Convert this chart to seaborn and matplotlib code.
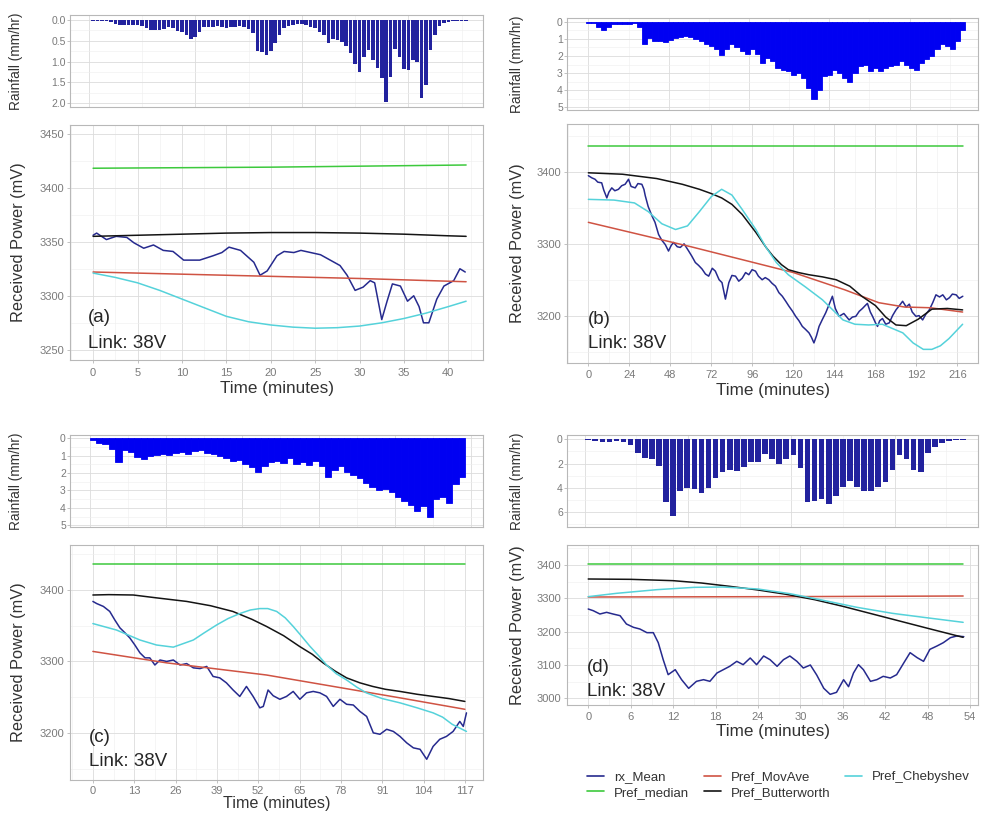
import numpy as np
import pandas as pd
import seaborn as sns
import matplotlib.pyplot as plt
from matplotlib.lines import Line2D
from matplotlib.ticker import FixedLocator, MultipleLocator, FormatStrFormatter

sns.set_theme(style="white")
plt.rcParams['font.family'] = ['Liberation Sans', 'DejaVu Sans']

W, H = 981, 814

series_order = ['rx_Mean', 'Pref_median', 'Pref_MovAve', 'Pref_Butterworth', 'Pref_Chebyshev']
palette = {
    'rx_Mean': '#262A8E',
    'Pref_median': '#3DC93D',
    'Pref_MovAve': '#CF5343',
    'Pref_Butterworth': '#141414',
    'Pref_Chebyshev': '#55D2DA',
}

# ---------------- panel (a) ----------------
a_rain_step = 0.5
a_rain = [0.02, 0.02, 0.02, 0.03, 0.05, 0.1, 0.12, 0.12, 0.12, 0.13,
          0.13, 0.15, 0.2, 0.24, 0.24, 0.24, 0.22, 0.18, 0.2, 0.26,
          0.3, 0.36, 0.45, 0.42, 0.3, 0.18, 0.16, 0.17, 0.15, 0.18,
          0.2, 0.17, 0.16, 0.14, 0.16, 0.22, 0.32, 0.75, 0.78, 0.84,
          0.75, 0.55, 0.35, 0.2, 0.14, 0.12, 0.1, 0.1, 0.12, 0.16,
          0.2, 0.28, 0.35, 0.56, 0.45, 0.48, 0.52, 0.62, 0.8, 1.05,
          1.24, 0.9, 0.72, 0.95, 1.15, 1.4, 1.96, 1.38, 0.7, 0.9,
          1.18, 1.2, 0.96, 1.0, 1.88, 1.55, 0.72, 0.35, 0.15, 0.07,
          0.04, 0.02, 0.02, 0.02, 0.02]
a_rx_t = [0, 0.4, 1.5, 2.6, 3.8, 4.6, 5.7, 6.8, 7.9, 9.0, 10.2, 12.0, 13.5, 14.5, 15.3, 16.6,
          18.1, 18.8, 19.6, 20.7, 21.5, 22.6, 23.4, 24.5, 25.6, 26.7, 27.8, 28.6, 29.5, 30.4,
          31.2, 31.7, 32.5, 33.1, 33.7, 34.6, 35.4, 36.1, 36.7, 37.2, 37.8, 38.7, 39.5, 40.6,
          41.3, 41.9]
a_rx_v = [3356, 3358, 3352, 3355, 3354, 3349, 3344, 3347, 3342, 3341, 3333, 3333, 3337, 3340,
          3345, 3342, 3331, 3319, 3323, 3337, 3341, 3340, 3342, 3340, 3338, 3333, 3328, 3319,
          3305, 3308, 3314, 3312, 3278, 3295, 3311, 3309, 3295, 3300, 3290, 3275, 3275, 3297,
          3309, 3314, 3325, 3322]
a_median_t = [0, 20, 42]
a_median_v = [3418, 3419, 3421]
a_movave_t = [0, 10, 20, 30, 42]
a_movave_v = [3322, 3320, 3318, 3316, 3313]
a_butter_t = [0, 5, 10, 15, 20, 25, 30, 35, 40, 42]
a_butter_v = [3355, 3356, 3357, 3358, 3358.5, 3358.5, 3358, 3357, 3355.5, 3355]
a_cheby_t = [0, 2.5, 5, 7.5, 10, 12.5, 15, 17.5, 20, 22.5, 25, 27.5, 30, 32.5, 35, 37.5, 40, 42]
a_cheby_v = [3321, 3317, 3312, 3305, 3297, 3289, 3281, 3276, 3273, 3271, 3270, 3270.5, 3272,
             3275, 3279, 3284, 3290, 3295]

# ---------------- panel (b) ----------------
b_rain_step = 3
b_rain = [0.05, 0.1, 0.3, 0.5, 0.3, 0.15, 0.12, 0.15, 0.15, 0.1,
          0.3, 1.3, 0.95, 1.1, 1.15, 1.2, 1.05, 0.95, 0.9, 0.85,
          0.9, 1.0, 1.1, 1.3, 1.4, 1.6, 1.95, 1.6, 1.3, 1.5,
          1.7, 1.9, 1.6, 1.9, 2.4, 2.1, 2.3, 2.7, 2.8, 2.9,
          3.1, 3.0, 3.3, 3.9, 4.5, 4.0, 3.2, 3.1, 2.8, 3.0,
          3.3, 3.5, 3.0, 2.6, 2.5, 2.9, 2.7, 2.9, 2.7, 2.6,
          2.5, 2.3, 2.5, 2.7, 2.8, 2.4, 2.2, 2.0, 1.6, 1.3,
          1.4, 1.6, 1.1, 0.5]
b_rx_t = [0, 2, 3.9, 5.5, 7.8, 9, 10.8, 12, 13.7, 15.5, 17.6, 19.5, 21.5, 23.5, 25, 27.4, 29,
          31.3, 32.5, 33.3, 35, 37.2, 39, 41.1, 43, 45, 46.9, 48.5, 49.9, 52, 53.8, 56, 58.7,
          60.5, 62.6, 64.5, 66.5, 68.5, 70.4, 72.5, 74.3, 76.5, 78.2, 80.2, 82.2, 84, 86.1, 88,
          90, 92, 93.9, 95.8, 97.8, 99.5, 101.7, 103.5, 105.6, 107.5, 109.5, 111.5, 113.5,
          115.5, 117.4, 119.5, 121.3, 123.2, 125.2, 127, 129.1, 130.5, 132, 133.5, 135, 137,
          138.9, 140.8, 142.8, 144.5, 146.7, 149.5, 152.6, 154.5, 156.5, 158.5, 160.4, 162,
          163.3, 165, 166.3, 168, 169.2, 170.5, 172.1, 174, 176.1, 178, 180, 182, 183.9, 186,
          187.8, 189.5, 191.7, 193.5, 195.6, 197.5, 199.5, 201.5, 203.4, 205.5, 207.4, 209.5,
          211.3, 213, 215.2, 217, 219.1]
b_rx_v = [3395, 3392, 3390, 3386, 3385, 3375, 3364, 3372, 3378, 3374, 3376, 3381, 3383, 3390,
          3380, 3378, 3384, 3383, 3376, 3367, 3352, 3339, 3330, 3313, 3305, 3299, 3290, 3298,
          3302, 3296, 3295, 3300, 3290, 3283, 3274, 3270, 3265, 3258, 3255, 3266, 3262, 3250,
          3246, 3223, 3246, 3256, 3255, 3248, 3252, 3260, 3257, 3264, 3262, 3255, 3250, 3253,
          3250, 3245, 3241, 3232, 3227, 3220, 3213, 3206, 3199, 3193, 3185, 3181, 3176, 3170,
          3162, 3172, 3185, 3195, 3204, 3215, 3227, 3210, 3199, 3203, 3194, 3198, 3199, 3206,
          3210, 3214, 3217, 3205, 3199, 3190, 3185, 3193, 3196, 3188, 3190, 3200, 3208, 3214,
          3220, 3212, 3216, 3205, 3199, 3200, 3194, 3202, 3208, 3218, 3229, 3226, 3229, 3222,
          3225, 3230, 3229, 3224, 3227]
b_median_t = [0, 110, 219]
b_median_v = [3437, 3437, 3437]
b_movave_t = [0, 30, 60, 90, 120, 150, 170, 185, 200, 219]
b_movave_v = [3330, 3313, 3296, 3278, 3260, 3236, 3218, 3212, 3211, 3205]
b_butter_t = [0, 20, 40, 55, 65, 72, 78, 84, 90, 98, 104, 108, 113, 117, 123, 129, 137, 145,
              153, 160, 168, 174, 180, 186, 193, 201, 210, 219]
b_butter_v = [3399, 3397, 3391, 3383, 3376, 3370, 3364, 3355, 3341, 3316, 3295, 3283, 3271,
              3264, 3260, 3257, 3254, 3250, 3241, 3227, 3214, 3198, 3187, 3186, 3195, 3209,
              3210, 3208]
b_cheby_t = [0, 15, 27, 35, 43, 51, 58, 65, 72, 78, 84, 90, 98, 104, 110, 117, 127, 137, 149,
             156, 164, 172, 184, 190, 196, 201, 206, 211, 219]
b_cheby_v = [3362, 3361, 3357, 3345, 3328, 3320, 3325, 3345, 3366, 3376, 3368, 3348, 3320,
             3295, 3274, 3257, 3240, 3222, 3194, 3188, 3187, 3188, 3176, 3162, 3153, 3153,
             3158, 3168, 3188]

# ---------------- panel (c) ----------------
c_rain_step = 2
c_rain = [0.1, 0.25, 0.35, 0.6, 1.35, 0.7, 0.8, 1.05, 1.2, 1.0,
          0.95, 0.9, 0.95, 0.85, 0.8, 0.9, 0.75, 0.7, 0.85, 0.9,
          1.0, 1.15, 1.3, 1.25, 1.45, 1.65, 1.95, 1.6, 1.35, 1.3,
          1.4, 1.15, 1.5, 1.35, 1.55, 1.3, 1.6, 2.2, 1.8, 1.6,
          1.95, 2.1, 2.3, 2.55, 2.8, 3.0, 2.9, 3.1, 3.35, 3.6,
          3.85, 4.2, 3.9, 4.55, 3.5, 3.4, 3.7, 2.6, 2.25]
c_rx_t = [0, 1.2, 3.3, 5.3, 6.9, 8.5, 10.1, 11.6, 13.2, 14.8, 16.4, 17.9, 19.5, 21.1, 23.2,
          25.3, 27.4, 29.5, 31.6, 33.7, 35.8, 37.8, 39.9, 42, 44.1, 46.2, 48.3, 50.4, 52.5,
          53.6, 55.1, 56.7, 58.8, 60.9, 63, 65.1, 67.2, 69.3, 71.4, 73.5, 75.6, 77.7, 79.8,
          81.9, 84, 86.1, 88.2, 90.3, 92.4, 94.5, 96.6, 98.7, 100.8, 102.9, 105, 107, 109.1,
          111.2, 113.3, 115.4, 116.5, 117.5]
c_rx_v = [3384, 3381, 3377, 3370, 3358, 3347, 3340, 3333, 3323, 3312, 3305, 3305, 3295, 3302,
          3300, 3302, 3295, 3297, 3291, 3290, 3293, 3279, 3277, 3270, 3260, 3251, 3265, 3251,
          3235, 3237, 3260, 3252, 3247, 3251, 3258, 3247, 3256, 3258, 3256, 3251, 3237, 3247,
          3240, 3239, 3230, 3223, 3200, 3198, 3205, 3202, 3195, 3186, 3179, 3177, 3163, 3181,
          3191, 3195, 3202, 3216, 3209, 3228]
c_median_t = [0, 58, 117]
c_median_v = [3437, 3437, 3437]
c_movave_t = [0, 23.2, 54.6, 75.6, 96.6, 117]
c_movave_v = [3314, 3298, 3281, 3265, 3249, 3233]
c_butter_t = [0, 5, 12.7, 20, 29.5, 37, 44, 50, 54.6, 60, 65, 69, 72.4, 76, 79.8, 84, 88, 92,
              96.6, 102, 107, 112, 117]
c_butter_v = [3393, 3393.5, 3393, 3389, 3384, 3378, 3370, 3359, 3349, 3336, 3321, 3310, 3298,
              3287, 3277, 3270, 3265, 3261, 3258, 3254, 3251, 3248, 3244]
c_cheby_t = [0, 7.4, 14.8, 20, 25.3, 31.6, 35, 38.9, 42.5, 46.2, 49.5, 52.5, 55, 57.8, 60.5,
             63, 65.5, 68.3, 71, 73.5, 76.5, 79.8, 83, 86, 91, 96.6, 102, 107, 110, 113, 117.5]
c_cheby_v = [3353, 3344, 3330, 3323, 3320, 3330, 3340, 3351, 3360, 3367, 3372, 3374, 3374,
             3370, 3361, 3349, 3336, 3321, 3308, 3295, 3283, 3274, 3264, 3256, 3248, 3242,
             3235, 3228, 3222, 3212, 3202]

# ---------------- panel (d) ----------------
d_rain_step = 1
d_rain = [0.05, 0.1, 0.25, 0.2, 0.1, 0.2, 0.5, 1.1, 1.5, 1.6,
          2.2, 5.2, 6.3, 4.3, 4.0, 4.1, 4.4, 4.0, 3.2, 2.7,
          2.5, 2.6, 2.25, 1.85, 1.9, 1.2, 1.6, 2.0, 1.6, 1.3,
          2.4, 5.2, 5.1, 4.9, 5.3, 4.7, 3.9, 3.4, 3.9, 4.3,
          4.3, 3.9, 3.5, 2.5, 1.3, 1.6, 2.5, 2.7, 1.1, 0.6,
          0.3, 0.1, 0.05, 0.05]
d_rx_t = [0, 0.7, 1.65, 2.6, 3.5, 4.5, 5.4, 6.4, 7.3, 8.3, 9.2, 9.9, 10.6, 11.3, 12.3, 13.2,
          14.2, 15.3, 16.3, 17.2, 18.2, 19.1, 20, 21, 21.9, 22.9, 23.8, 24.8, 25.7, 26.7,
          27.6, 28.5, 29.5, 30.4, 31.4, 32.3, 33.3, 34.2, 35.1, 36.1, 36.8, 37.5, 38.2, 38.9,
          39.9, 40.8, 41.7, 42.7, 43.6, 44.6, 45.5, 46.5, 47.4, 48.3, 49.3, 50.2, 51.2, 52.1,
          53.1]
d_rx_v = [3268, 3263, 3253, 3258, 3253, 3248, 3223, 3213, 3208, 3197, 3197, 3167, 3116, 3071,
          3086, 3056, 3030, 3051, 3056, 3051, 3076, 3086, 3096, 3111, 3101, 3121, 3101, 3127,
          3116, 3096, 3116, 3127, 3111, 3091, 3100, 3070, 3030, 3012, 3018, 3056, 3035, 3076,
          3101, 3086, 3051, 3056, 3066, 3061, 3071, 3106, 3137, 3122, 3111, 3147, 3157, 3167,
          3182, 3187, 3185]
d_median_t = [0, 27, 53]
d_median_v = [3402, 3402, 3402]
d_movave_t = [0, 27, 53]
d_movave_v = [3304, 3305, 3307]
d_butter_t = [0, 6, 12, 16, 20, 24, 28, 32, 36, 40, 44, 48, 53]
d_butter_v = [3358, 3357, 3353, 3346, 3336, 3325, 3312, 3296, 3276, 3254, 3232, 3210, 3183]
d_cheby_t = [0, 4, 9.7, 15, 19, 24, 28.5, 33, 38, 43, 47.4, 53]
d_cheby_v = [3305, 3315, 3326, 3333, 3334, 3328, 3314, 3295, 3273, 3255, 3243, 3228]


def long_frame(parts):
    rows = []
    for name, t, v in parts:
        rows.append(pd.DataFrame({'time': t, 'power': v, 'series': name}))
    return pd.concat(rows, ignore_index=True)


panels = [
    dict(tag='(a)', rain=a_rain, step=a_rain_step, rain_color='#22229E', bar_width=0.8,
         lines=long_frame([('rx_Mean', a_rx_t, a_rx_v), ('Pref_median', a_median_t, a_median_v),
                           ('Pref_MovAve', a_movave_t, a_movave_v),
                           ('Pref_Butterworth', a_butter_t, a_butter_v),
                           ('Pref_Chebyshev', a_cheby_t, a_cheby_v)]),
         rain_box=(70, 15, 483, 107), main_box=(70, 125, 483, 360),
         xlim=(-2.6, 43.9), ylim=(3240.6, 3458), rain_ylim=(2.09, -0.12),
         xticks=np.arange(0, 41, 5), xminor=2.5, yticks=np.arange(3250, 3451, 50), yminor=25,
         rain_yticks=[0, 0.5, 1.0, 1.5, 2.0], rain_fmt='%.1f',
         rain_grid=[-0.5, 11.5, 23.5, 35.5], ylab_off=-44, rlab_off=-47,
         text_off=(18, 43, 17), xlab_off=-21, xlab_size=12.3, xpad=3.2),
    dict(tag='(b)', rain=b_rain, step=b_rain_step, rain_color='#0000F2', bar_width=1.0,
         lines=long_frame([('rx_Mean', b_rx_t, b_rx_v), ('Pref_median', b_median_t, b_median_v),
                           ('Pref_MovAve', b_movave_t, b_movave_v),
                           ('Pref_Butterworth', b_butter_t, b_butter_v),
                           ('Pref_Chebyshev', b_cheby_t, b_cheby_v)]),
         rain_box=(567, 18, 978, 110), main_box=(567, 124, 978, 363),
         xlim=(-12.5, 228), ylim=(3134, 3467), rain_ylim=(5.16, -0.22),
         xticks=np.arange(0, 217, 24), xminor=12, yticks=[3200, 3300, 3400], yminor=50,
         rain_yticks=[0, 1, 2, 3, 4, 5], rain_fmt='%d',
         rain_grid=[0, 47, 94, 141, 188], ylab_off=-42, rlab_off=-43,
         text_off=(21, 43, 20), xlab_off=-20, xlab_size=12.3, xpad=3.2),
    dict(tag='(c)', rain=c_rain, step=c_rain_step, rain_color='#0000F2', bar_width=1.0,
         lines=long_frame([('rx_Mean', c_rx_t, c_rx_v), ('Pref_median', c_median_t, c_median_v),
                           ('Pref_MovAve', c_movave_t, c_movave_v),
                           ('Pref_Butterworth', c_butter_t, c_butter_v),
                           ('Pref_Chebyshev', c_cheby_t, c_cheby_v)]),
         rain_box=(70, 435, 483, 527), main_box=(70, 545, 483, 780),
         xlim=(-7.2, 122.7), ylim=(3134, 3463), rain_ylim=(5.1, -0.19),
         xticks=np.arange(0, 118, 13), xminor=6.5, yticks=[3200, 3300, 3400], yminor=50,
         rain_yticks=[0, 1, 2, 3, 4, 5], rain_fmt='%d',
         rain_grid=[-1, 23, 47, 71, 95, 119], ylab_off=-44, rlab_off=-47,
         text_off=(19, 43, 18), xlab_off=-16, xlab_size=11.6, xpad=1.8),
    dict(tag='(d)', rain=d_rain, step=d_rain_step, rain_color='#22229E', bar_width=0.8,
         lines=long_frame([('rx_Mean', d_rx_t, d_rx_v), ('Pref_median', d_median_t, d_median_v),
                           ('Pref_MovAve', d_movave_t, d_movave_v),
                           ('Pref_Butterworth', d_butter_t, d_butter_v),
                           ('Pref_Chebyshev', d_cheby_t, d_cheby_v)]),
         rain_box=(567, 435, 978, 527), main_box=(567, 545, 978, 705),
         xlim=(-3.0, 55.1), ylim=(2980, 3460), rain_ylim=(7.24, -0.36),
         xticks=np.arange(0, 55, 6), xminor=3, yticks=np.arange(3000, 3401, 100), yminor=50,
         rain_yticks=[0, 2, 4, 6], rain_fmt='%d',
         rain_grid=[-0.5, 14.1, 28.7, 43.3], ylab_off=-42, rlab_off=-43,
         text_off=(20, 38, 13), xlab_off=-19, xlab_size=12.3, xpad=3.2),
]


def px_rect(box):
    l, t, r, b = box
    return [l / W, 1 - b / H, (r - l) / W, (b - t) / H]


def style_axes(ax):
    ax.set_facecolor('white')
    for s in ax.spines.values():
        s.set_visible(True)
        s.set_color('#B8B8B8')
        s.set_linewidth(0.8)
    ax.grid(which='major', color='#DCDCDC', linewidth=0.6)
    ax.grid(which='minor', color='#EEEEEE', linewidth=0.4)
    ax.set_axisbelow(True)
    ax.tick_params(which='major', length=2.2, width=0.6, color='#B8B8B8',
                   labelsize=8, labelcolor='#7A7A7A', pad=2.2, left=True, bottom=True)
    ax.tick_params(which='minor', length=0)


fig = plt.figure(figsize=(W / 100, H / 100), dpi=100)

for p in panels:
    # rainfall, drawn downwards from the top
    rax = fig.add_axes(px_rect(p['rain_box']))
    style_axes(rax)
    times = p['step'] * np.arange(len(p['rain']))
    edge_lw = 0.6 if p['bar_width'] >= 1 else 0
    sns.barplot(x=times, y=p['rain'], native_scale=True, color=p['rain_color'], saturation=1,
                width=p['bar_width'], errorbar=None, linewidth=edge_lw,
                edgecolor=p['rain_color'], ax=rax)
    rax.set_xlim(*p['xlim'])
    rax.set_ylim(*p['rain_ylim'])
    g = p['rain_grid']
    rax.xaxis.set_major_locator(FixedLocator(g))
    rax.xaxis.set_minor_locator(FixedLocator([(g[i] + g[i + 1]) / 2 for i in range(len(g) - 1)]
                                             + [g[-1] + (g[1] - g[0]) / 2]))
    ry = p['rain_yticks']
    rax.yaxis.set_major_locator(FixedLocator(ry))
    rax.yaxis.set_minor_locator(MultipleLocator((ry[1] - ry[0]) / 2))
    rax.yaxis.set_major_formatter(FormatStrFormatter(p['rain_fmt']))
    rax.tick_params(axis='x', length=0, labelbottom=False)
    rax.tick_params(axis='y', pad=0.8, labelsize=7.5)
    rax.set_xlabel('')
    rax.set_ylabel('Rainfall (mm/hr)', fontsize=9.8, color='#333333')
    rw = p['rain_box'][2] - p['rain_box'][0]
    rax.yaxis.set_label_coords(p['rlab_off'] / rw, 0.5)

    # received power
    ax = fig.add_axes(px_rect(p['main_box']))
    style_axes(ax)
    sns.lineplot(data=p['lines'], x='time', y='power', hue='series', hue_order=series_order,
                 palette=palette, estimator=None, linewidth=1.1, legend=False, ax=ax)
    ax.set_xlim(*p['xlim'])
    ax.set_ylim(*p['ylim'])
    ax.xaxis.set_major_locator(FixedLocator(p['xticks']))
    ax.xaxis.set_minor_locator(MultipleLocator(p['xminor']))
    ax.yaxis.set_major_locator(FixedLocator(p['yticks']))
    ax.yaxis.set_minor_locator(MultipleLocator(p['yminor']))
    ax.tick_params(axis='x', pad=p['xpad'])
    ax.set_xlabel('Time (minutes)', fontsize=p['xlab_size'], color='#333333')
    ax.set_ylabel('Received Power (mV)', fontsize=11.8, color='#333333')
    mw = p['main_box'][2] - p['main_box'][0]
    mh = p['main_box'][3] - p['main_box'][1]
    ax.yaxis.set_label_coords(p['ylab_off'] / mw, 0.5)
    ax.xaxis.set_label_coords(0.5, p['xlab_off'] / mh)

    dx, dy_tag, dy_link = p['text_off']
    ax.annotate(p['tag'], xy=(0, 0), xycoords='axes fraction',
                xytext=(dx * 0.72, dy_tag * 0.72), textcoords='offset points',
                ha='left', va='center', fontsize=13.5, color='#262626')
    ax.annotate('Link: 38V', xy=(0, 0), xycoords='axes fraction',
                xytext=(dx * 0.72, dy_link * 0.72), textcoords='offset points',
                ha='left', va='center', fontsize=13.5, color='#262626')

handles = [Line2D([0], [0], color=palette[s], linewidth=1.2) for s in series_order]
fig.legend(handles, series_order, ncol=3, loc='upper left',
           bbox_to_anchor=(587 / W, 1 - 771 / H), frameon=False, fontsize=9.5,
           handlelength=1.3, handletextpad=0.75, columnspacing=1.1, labelspacing=0.25,
           borderpad=0, borderaxespad=0, labelcolor='#333333')

fig.savefig('out.png', dpi=100)
